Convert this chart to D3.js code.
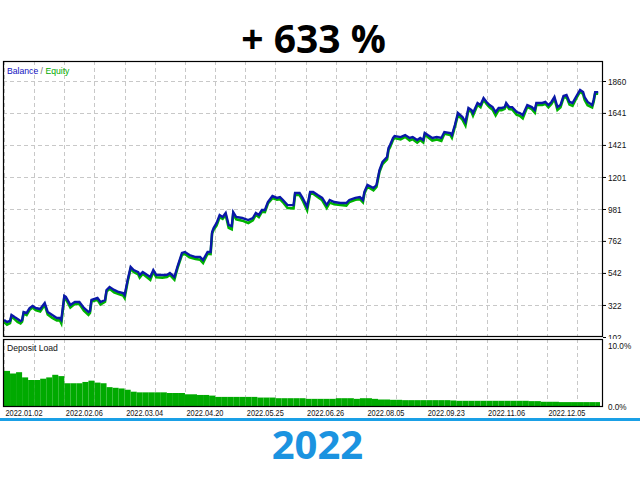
<!DOCTYPE html>
<html><head><meta charset="utf-8">
<script src="https://cdn.jsdelivr.net/npm/d3@7"></script>
<style>html,body{margin:0;padding:0;background:#fff;}svg{display:block;}</style>
</head><body>
<script>
// ---------- DATA ----------
const titleText = "+ 633 %";
const yearText = "2022";
const yTickValues = [102, 322, 542, 762, 981, 1201, 1421, 1641, 1860];
const yTickLabels = ["102", "322", "542", "762", "981", "1201", "1421", "1641", "1860"];
const dateTicks = [0, 40, 80, 120, 160, 200, 240, 280, 320, 360];
const dateLabels = ["2022.01.02", "2022.02.06", "2022.03.04", "2022.04.20", "2022.05.25",
                    "2022.06.26", "2022.08.05", "2022.09.23", "2022.11.06", "2022.12.05"];
const trades = [0,2,4,5,7,9,11,12,13,15,17,19,21,24,27,29,32,35,37,38,
  40,41,44,47,50,53,56,57,58,62,64,67,68,70,73,76,79,80,82,84,
  86,89,90,92,93,97,99,101,105,108,110,113,115,118,120,123,127,130,132,135,
  137,138,139,141,143,145,147,149,151,152,154,158,162,165,167,169,171,173,175,178,
  181,183,185,188,192,193,196,198,201,203,205,208,211,214,216,219,223,227,229,233,
  236,238,239,241,245,247,249,251,254,255,256,258,259,263,266,269,271,274,276,278,
  279,281,284,287,290,292,296,297,299,301,304,306,308,310,311,314,316,318,320,322,
  324,326,328,330,332,333,335,337,340,342,344,347,350,352,353,357,359,361,363,365,
  367,369,371,373,375,377,380,382,384,385,387,390,391,392,394];
const balance = [219,205,212,253,239,226,212,219,274,267,301,315,301,294,335,274,253,232,232,219,
  384,377,322,342,342,301,274,281,356,370,342,356,425,445,425,411,404,390,493,583,
  562,548,528,548,541,514,562,528,528,528,541,514,583,679,686,665,651,651,631,686,
  686,823,850,885,940,926,954,871,864,960,926,919,905,919,954,940,974,974,1029,1070,
  1057,1063,1043,1008,1008,1091,1091,1057,995,1098,1098,1077,1057,1008,1043,1029,1022,1022,1043,1057,
  1063,1043,1098,1146,1125,1146,1249,1304,1338,1400,1420,1469,1482,1475,1489,1469,1475,1455,1469,1455,
  1503,1489,1469,1475,1469,1510,1503,1489,1558,1640,1613,1578,1675,1661,1640,1709,1695,1743,1716,1695,
  1681,1647,1675,1675,1681,1709,1681,1681,1647,1640,1626,1695,1681,1661,1709,1709,1716,1695,1716,1750,
  1681,1695,1757,1764,1716,1709,1764,1798,1784,1750,1716,1695,1729,1784,1784];
// how far equity sat below balance at each point
const equityGap = [12,18,14,10,14,20,16,12,10,14, 12,10,14,16,12,18,20,16,14,22,
  10,14,18,12,14,18,20,14,10,12, 16,12,10,12,16,14,18,20,10,12,
  14,16,18,12,14,20,12,16,18,14, 12,18,10,12,14,16,14,18,20,12,
  14,10,12,16,14,12,14,20,22,12, 16,18,20,16,12,14,12,14,10,14,
  12,14,16,20,22,12,14,16,22,10, 12,14,16,20,18,16,14,18,14,12,
  14,16,10,12,16,14,12,14,16,12, 14,12,14,16,12,18,14,18,14,16,
  12,14,18,16,20,12,14,18,12,14, 18,22,12,14,18,12,14,10,14,16,
  18,22,14,16,12,10,14,16,20,18, 22,12,14,18,12,14,12,16,14,12,
  20,16,12,14,18,20,12,10,14,18, 22,16,12,10,12];
const loadTrades = d3.range(0, 396, 4);
const depositLoad = [5.4,5.0,5.2,4.4,4.0,4.0,4.2,4.4,4.8,4.6,
  3.5,3.5,3.5,3.7,3.9,3.6,3.5,2.9,2.8,2.7,
  2.5,2.2,2.1,2.1,2.1,2.1,2.1,2.0,2.0,2.0,
  1.8,1.8,1.7,1.7,1.6,1.4,1.4,1.4,1.4,1.4,
  1.4,1.4,1.3,1.3,1.3,1.2,1.2,1.2,1.2,1.2,
  1.1,1.1,1.1,1.1,1.1,1.2,1.2,1.2,1.1,1.2,
  1.2,1.1,1.0,1.0,0.95,0.95,0.9,0.9,0.9,0.9,
  0.9,0.9,0.9,0.9,0.85,0.8,0.8,0.8,0.8,0.8,
  0.8,0.8,0.8,0.8,0.8,0.8,0.8,0.75,0.75,0.65,
  0.65,0.65,0.6,0.6,0.6,0.6,0.6,0.6,0.6];

// ---------- LAYOUT ----------
const W = 640, H = 480;
const L = 3, R = 603, mainTop = 61, mainBot = 337, depTop = 339, depBot = 406;
const font = "'Liberation Sans', Arial, sans-serif";

const svg = d3.select("body").append("svg").attr("width", W).attr("height", H);
svg.append("rect").attr("width", W).attr("height", H).attr("fill", "#fff");

const x = d3.scaleLinear().domain([-0.66, 397.2]).range([L, R]);
const y = d3.scaleLinear().domain([102, 1994]).range([mainBot, mainTop + 0.5]);
const yd = d3.scaleLinear().domain([0, 10]).range([depBot, depTop + 2]);

const defs = svg.append("defs");
defs.append("clipPath").attr("id", "clipMain").append("rect")
  .attr("x", L).attr("y", mainTop).attr("width", R - L).attr("height", mainBot - mainTop);
// in the local coords of the translated y-axis group
defs.append("clipPath").attr("id", "clipLabels").append("rect")
  .attr("x", 0).attr("y", mainTop - 10).attr("width", W - R).attr("height", depTop - mainTop + 10);

const gridTicks = d3.range(0, 381, 20);
const gridColor = "#c8c8c8";

// vertical grid (both panels)
[[mainTop, mainBot], [depTop, depBot]].forEach(([t, b]) => {
  svg.append("g").selectAll("line").data(gridTicks).join("line")
    .attr("x1", d => Math.round(x(d)) + 0.5).attr("x2", d => Math.round(x(d)) + 0.5)
    .attr("y1", t).attr("y2", b)
    .attr("stroke", gridColor).attr("stroke-dasharray", "4,3");
});
// horizontal grid main
svg.append("g").selectAll("line").data(yTickValues.slice(1)).join("line")
  .attr("x1", L).attr("x2", R)
  .attr("y1", d => Math.round(y(d)) + 0.5).attr("y2", d => Math.round(y(d)) + 0.5)
  .attr("stroke", gridColor).attr("stroke-dasharray", "4,3");

// lines
const pts = trades.map((t, i) => ({t, b: balance[i], e: balance[i] - equityGap[i]}));
const gLines = svg.append("g").attr("clip-path", "url(#clipMain)");
gLines.append("path").datum(pts)
  .attr("d", d3.line().x(d => x(d.t)).y(d => y(d.e)))
  .attr("fill", "none").attr("stroke", "#00b400").attr("stroke-width", 2.6).attr("stroke-linejoin", "miter");
gLines.append("path").datum(pts)
  .attr("d", d3.line().x(d => x(d.t)).y(d => y(d.b)))
  .attr("fill", "none").attr("stroke", "#0a18a8").attr("stroke-width", 2.4).attr("stroke-linejoin", "miter");

// deposit load bars
svg.append("g").selectAll("rect").data(loadTrades.map((t, i) => ({t, v: depositLoad[i]}))).join("rect")
  .attr("x", d => x(d.t)).attr("width", d => Math.min(x(d.t + 4), R - 3) - x(d.t))
  .attr("y", d => yd(d.v)).attr("height", d => depBot - yd(d.v))
  .attr("fill", "#00aa00");

// frames
svg.append("rect").attr("x", L + 0.5).attr("y", mainTop + 0.5).attr("width", R - L - 1).attr("height", mainBot - mainTop - 1)
  .attr("fill", "none").attr("stroke", "#000").attr("stroke-width", 1.2);
svg.append("rect").attr("x", L + 0.5).attr("y", depTop + 0.5).attr("width", R - L - 1).attr("height", depBot - depTop)
  .attr("fill", "none").attr("stroke", "#000").attr("stroke-width", 1.2);

// axes
const yAxis = svg.append("g").attr("transform", `translate(${R},0)`).attr("clip-path", "url(#clipLabels)")
  .call(d3.axisRight(y).tickValues(yTickValues).tickSize(3).tickPadding(2)
    .tickFormat((d, i) => yTickLabels[i]));
const dAxis = svg.append("g").attr("transform", `translate(${R},0)`)
  .call(d3.axisRight(yd).tickValues([0, 10]).tickSize(0).tickPadding(5).tickFormat(d => d.toFixed(1) + "%"));
dAxis.selectAll(".tick text").attr("dy", (d) => d === 10 ? "0.75em" : "0.32em");
const xAxis = svg.append("g").attr("transform", `translate(0,${depBot})`)
  .call(d3.axisBottom(x).tickValues(dateTicks).tickSize(0).tickPadding(3)
    .tickFormat((d, i) => dateLabels[i]));
xAxis.selectAll(".tick text").attr("text-anchor", "start").attr("x", 1);
[yAxis, dAxis, xAxis].forEach(g => {
  g.select(".domain").remove();
  g.selectAll(".tick line").attr("stroke", "#000");
  g.selectAll("text").attr("font-family", font).attr("font-size", 9.5).attr("fill", "#111");
});

// texts
svg.append("text").attr("x", 7).attr("y", 74).attr("font-family", font).attr("font-size", 9.6)
  .attr("class", "sq")
  .call(t => {
    t.append("tspan").text("Balance").attr("fill", "#1010c0");
    t.append("tspan").text(" / ").attr("fill", "#707070");
    t.append("tspan").text("Equity").attr("fill", "#00aa00");
  });
svg.append("text").attr("x", 7).attr("y", 350.5).attr("font-family", font).attr("font-size", 9.6)
  .attr("fill", "#111").attr("class", "sq").text("Deposit Load");

// horizontal squeeze for small chart texts
svg.selectAll(".sq").each(function () {
  const w = this.getComputedTextLength();
  d3.select(this).attr("textLength", w * 0.9).attr("lengthAdjust", "spacingAndGlyphs");
});
[yAxis, dAxis].forEach(g => g.selectAll(".tick text").each(function () {
  const w = this.getComputedTextLength();
  d3.select(this).attr("textLength", w * 0.86).attr("lengthAdjust", "spacingAndGlyphs");
}));
xAxis.selectAll(".tick text").attr("textLength", 37).attr("lengthAdjust", "spacingAndGlyphs");

// title and footer
svg.append("text").attr("x", 313.5).attr("y", 53).attr("text-anchor", "middle")
  .attr("font-family", "'Open Sans', 'Noto Sans', sans-serif").attr("font-weight", 700).attr("font-size", 39)
  .attr("fill", "#000").text(titleText);
svg.append("rect").attr("x", 0).attr("y", 418).attr("width", W).attr("height", 3).attr("fill", "#1aa0e6");
svg.append("text").attr("x", 317.5).attr("y", 459).attr("text-anchor", "middle")
  .attr("font-family", "'Open Sans', 'Noto Sans', sans-serif").attr("font-weight", 700).attr("font-size", 40)
  .attr("fill", "#1b93e0").text(yearText);
</script>
</body></html>
